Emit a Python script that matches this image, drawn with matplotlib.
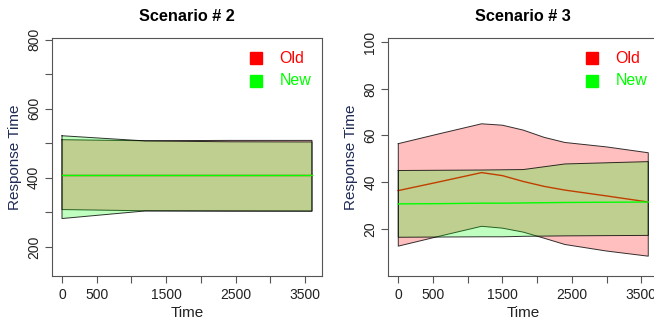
import matplotlib
matplotlib.use("Agg")
import matplotlib.pyplot as plt

plt.rcParams['font.family'] = ['Liberation Sans', 'DejaVu Sans']

# ---------------------------------------------------------------- data
time_s2 = [0, 1200, 2400, 3600]
old_upper_s2 = [510.5, 507.5, 508.5, 508.5]
old_mean_s2 = [407, 407, 407, 407]
old_lower_s2 = [308, 304.5, 303.5, 303.5]
new_upper_s2 = [522, 507, 504.5, 504]
new_mean_s2 = [407, 407, 407, 407]
new_lower_s2 = [282, 304, 304, 303.5]

time_s3 = [0, 600, 1200, 1500, 1800, 2100, 2400, 3000, 3600]
old_upper_s3 = [56.5, 60.8, 65.0, 64.4, 62.3, 59.2, 57.0, 55.1, 52.6]
old_mean_s3 = [36.4, 40.2, 44.1, 42.8, 40.3, 38.2, 36.6, 34.1, 31.5]
old_lower_s3 = [12.6, 16.9, 21.1, 20.3, 18.6, 16.0, 13.3, 10.5, 8.3]
new_upper_s3 = [45.0, 45.1, 45.2, 45.3, 45.4, 46.6, 47.8, 48.3, 48.8]
new_mean_s3 = [30.7, 30.8, 31.0, 31.0, 31.1, 31.2, 31.3, 31.4, 31.5]
new_lower_s3 = [16.4, 16.5, 16.6, 16.6, 16.8, 16.9, 17.0, 17.1, 17.2]

xticks = [0, 500, 1000, 1500, 2000, 2500, 3000, 3500]
xticklabels = ["0", "500", "", "1500", "", "2500", "", "3500"]
yticks_s2 = [200, 300, 400, 500, 600, 700, 800]
yticklabels_s2 = ["200", "", "400", "", "600", "", "800"]
yticks_s3 = [20, 40, 60, 80, 100]
yticklabels_s3 = ["20", "40", "60", "80", "100"]
series_names = ["Old", "New"]
# ----------------------------------------------------------------------

RED = (1, 0, 0)
GREEN = (0, 1, 0)
AXCOL = "#555555"

fig = plt.figure(figsize=(6.54, 3.23), dpi=100)
ax1 = fig.add_axes([0.0795, 0.144, 0.4128, 0.738])
ax2 = fig.add_axes([0.5937, 0.144, 0.4128, 0.738])


def band(ax, t, lo, mid, hi, col, z):
    # fill, outline, mean line - stacked so later bands tint earlier lines
    ax.fill_between(t, lo, hi, facecolor=col, alpha=0.25, edgecolor="none", zorder=z)
    xs = list(t) + list(t[::-1]) + [t[0]]
    ys = list(hi) + list(lo[::-1]) + [hi[0]]
    ax.plot(xs, ys, color="black", lw=0.7, alpha=0.8, zorder=z + 0.1)
    ax.plot(t, mid, color=col, lw=1.0, zorder=z + 0.2)


def panel(ax, title, t, bands, ylim, yticks, yticklabels):
    for i, (lo, mid, hi, col) in enumerate(bands):
        band(ax, t, lo, mid, hi, col, 2 + i)
    ax.set_xlim(-144, 3744)
    ax.set_ylim(*ylim)
    ax.set_xticks(xticks)
    ax.set_xticklabels(xticklabels, fontsize=10)
    ax.set_yticks(yticks)
    ax.set_yticklabels(yticklabels, fontsize=10, rotation=90, va="center")
    ax.tick_params(length=5, width=0.8, color=AXCOL, pad=3, labelcolor="#222222")
    for s in ax.spines.values():
        s.set_color(AXCOL)
        s.set_linewidth(0.8)
    ax.set_xlabel("Time", fontsize=11, va="center", color="#222222")
    ax.xaxis.set_label_coords(0.5, -0.152)
    ax.set_ylabel("Response Time", fontsize=11, va="center", color="#1f2a55")
    ax.yaxis.set_label_coords(-0.137, 0.5)
    ax.set_title(title, fontsize=11.7, fontweight="bold", y=1.092, va="center", pad=0)
    # legend
    for i, (name, col) in enumerate(zip(series_names, [RED, GREEN])):
        yy = 0.916 - i * 0.094
        ax.plot([0.7556], [yy], marker="s", ms=8, color=col, mec=col,
                transform=ax.transAxes, clip_on=False, zorder=6)
        ax.text(0.842, yy, name, color=col, fontsize=11.5, va="center",
                ha="left", transform=ax.transAxes)


panel(ax1, "Scenario # 2", time_s2,
      [(old_lower_s2, old_mean_s2, old_upper_s2, RED),
       (new_lower_s2, new_mean_s2, new_upper_s2, GREEN)],
      (114, 805), yticks_s2, yticklabels_s2)
panel(ax2, "Scenario # 3", time_s3,
      [(old_lower_s3, old_mean_s3, old_upper_s3, RED),
       (new_lower_s3, new_mean_s3, new_upper_s3, GREEN)],
      (-0.4, 101.7), yticks_s3, yticklabels_s3)

fig.savefig("out.png", dpi=100)
